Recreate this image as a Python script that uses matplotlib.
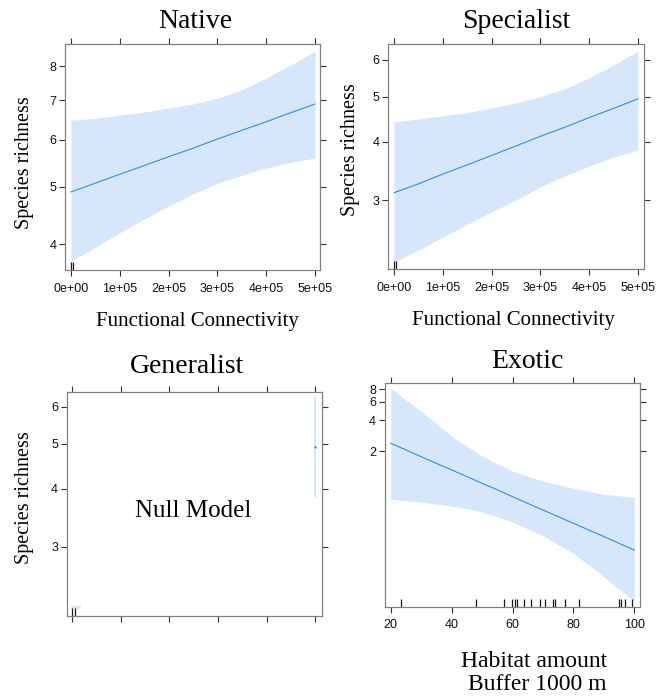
import matplotlib
matplotlib.use("Agg")
import matplotlib.pyplot as plt
from matplotlib.ticker import NullLocator

# effect curves (fitted richness with 95% band), read on a log scale
fc_x = [0, 0.5e5, 1e5, 1.5e5, 2e5, 2.5e5, 3e5, 3.5e5, 4e5, 4.5e5, 5e5]

native_fit = [4.90, 5.07, 5.25, 5.43, 5.62, 5.81, 6.02, 6.23, 6.44, 6.67, 6.90]
native_lower = [3.74, 3.95, 4.18, 4.41, 4.64, 4.86, 5.07, 5.23, 5.38, 5.50, 5.59]
native_upper = [6.48, 6.53, 6.61, 6.69, 6.79, 6.90, 7.06, 7.29, 7.64, 8.03, 8.48]
native_rug = [0, 4000]

spec_fit = [3.11, 3.25, 3.41, 3.57, 3.74, 3.92, 4.11, 4.30, 4.51, 4.72, 4.95]
spec_lower = [2.21, 2.34, 2.50, 2.66, 2.83, 3.00, 3.20, 3.38, 3.55, 3.71, 3.84]
spec_upper = [4.41, 4.48, 4.55, 4.62, 4.73, 4.85, 5.00, 5.20, 5.49, 5.85, 6.27]
spec_rug = [0, 5000]

# generalist: null model, only a degenerate band is left
gen_x = [5e5]
gen_fit = [4.92]
gen_lower = [3.84]
gen_upper = [6.30]
gen_edge_x = [0, 15000]
gen_edge_y = [2.23, 2.23]
gen_rug = [1000, 5500]

ha_x = [20, 25, 30, 35, 40, 45, 50, 55, 60, 70, 80, 90, 100]
exotic_fit = [2.38, 2.05, 1.76, 1.52, 1.31, 1.13, 0.97, 0.84, 0.72, 0.534, 0.397, 0.295, 0.218]
exotic_lower = [0.683, 0.66, 0.639, 0.61, 0.584, 0.55, 0.511, 0.46, 0.409, 0.299, 0.203, 0.120, 0.069]
exotic_upper = [8.13, 6.26, 4.84, 3.70, 2.78, 2.22, 1.79, 1.50, 1.28, 1.02, 0.868, 0.760, 0.71]
exotic_rug = [23.3, 48.0, 57.1, 59.9, 60.8, 61.6, 63.9, 66.0, 69.1, 70.8, 73.2, 73.8,
              77.1, 81.9, 94.9, 95.7, 96.9, 99.1]

fc_ticks = [0, 1e5, 2e5, 3e5, 4e5, 5e5]
fc_labels = ["0e+00", "1e+05", "2e+05", "3e+05", "4e+05", "5e+05"]
ha_ticks = [20, 40, 60, 80, 100]

LINE = "#2e8ce8"
BAND = "#d6e7fb"
SERIF = "Liberation Serif"

plt.rcParams["font.family"] = ["Liberation Sans", "DejaVu Sans"]

W, H = 659, 699
fig = plt.figure(figsize=(W / 100, H / 100), dpi=100)


def box(l, t, r, b):
    return [l / W, 1 - b / H, (r - l) / W, (b - t) / H]


def at(x, y):
    return x / W, 1 - y / H


def style_panel(ax, xlim, ylim, xticks, yticks, xlabels=None):
    ax.set_yscale("log")
    ax.set_xlim(xlim)
    ax.set_ylim(ylim)
    ax.set_xticks(xticks)
    ax.set_xticklabels(xlabels if xlabels is not None else ["" for _ in xticks])
    ax.set_yticks(yticks)
    ax.set_yticklabels([str(v) for v in yticks])
    ax.yaxis.set_minor_locator(NullLocator())
    ax.tick_params(direction="out", length=4.3, width=0.8, top=True, right=True,
                   labelsize=9, color="#333333", labelcolor="#111111", pad=2)
    ax.tick_params(axis="x", pad=5)
    for s in ax.spines.values():
        s.set_color("#808080")
        s.set_linewidth(0.9)


def rug(ax, xs):
    ax.vlines(xs, 0, 0.035, transform=ax.get_xaxis_transform(),
              color="#1a1a1a", lw=0.9)


def curve(ax, x, fit, lo, hi):
    ax.fill_between(x, lo, hi, color=BAND, lw=0)
    ax.plot(x, fit, color=LINE, lw=0.8)


# Native
ax1 = fig.add_axes(box(65, 44, 320, 270))
curve(ax1, fc_x, native_fit, native_lower, native_upper)
rug(ax1, native_rug)
style_panel(ax1, (-12295, 510246), (3.615, 8.72), fc_ticks, [4, 5, 6, 7, 8], fc_labels)

# Specialist
ax2 = fig.add_axes(box(388.3, 44.3, 644.3, 269.3))
curve(ax2, fc_x, spec_fit, spec_lower, spec_upper)
rug(ax2, spec_rug)
style_panel(ax2, (-11680, 512900), (2.13, 6.48), fc_ticks, [3, 4, 5, 6], fc_labels)

# Generalist
ax3 = fig.add_axes(box(66.7, 391.7, 321.7, 616))
ax3.vlines(gen_x, gen_lower, gen_upper, color=BAND, lw=1.6)
ax3.plot(gen_x, gen_fit, ".", color=LINE, ms=1.5)
ax3.plot(gen_edge_x, gen_edge_y, color=BAND, lw=2)
rug(ax3, gen_rug)
style_panel(ax3, (-10890, 513150), (2.13, 6.47), fc_ticks, [3, 4, 5, 6])

# Exotic
ax4 = fig.add_axes(box(384.7, 383.3, 639.5, 606.5))
curve(ax4, ha_x, exotic_fit, exotic_lower, exotic_upper)
rug(ax4, exotic_rug)
style_panel(ax4, (18.03, 101.7), (0.0617, 9.10), ha_ticks, [2, 4, 6, 8],
            [str(v) for v in ha_ticks])

# titles and axis labels
for label, x, y in [("Native", 195.5, 28), ("Specialist", 516, 28),
                    ("Generalist", 187, 373), ("Exotic", 527, 368)]:
    fig.text(*at(x, y), label, family=SERIF, fontsize=20, ha="center", va="baseline")

for x, y in [(197, 326), (513, 325)]:
    fig.text(*at(x, y), "Functional Connectivity", family=SERIF, fontsize=15,
             ha="center", va="baseline")

for x, y in [(24, 162.5), (350.7, 149.5), (25, 498)]:
    fig.text(*at(x, y), "Species richness", family=SERIF, fontsize=14.5,
             ha="center", va="center", rotation=90)

fig.text(*at(193.5, 517), "Null Model", family=SERIF, fontsize=18,
         ha="center", va="baseline")

fig.text(*at(607, 690), "Habitat amount\nBuffer 1000 m", family=SERIF, fontsize=17,
         ha="right", va="baseline", multialignment="right", linespacing=1.15)

fig.savefig("out.png", dpi=100)
